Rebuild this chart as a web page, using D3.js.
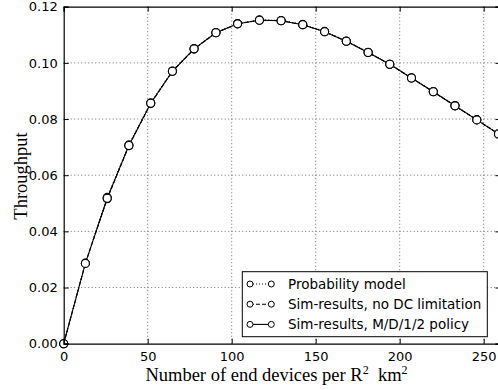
<!DOCTYPE html>
<html>
<head>
<meta charset="utf-8">
<script src="https://cdn.jsdelivr.net/npm/d3@7"></script>
<style>
  html, body { margin: 0; padding: 0; background: #fff; }
  svg { display: block; }
</style>
</head>
<body>
<svg id="chart" width="498" height="390"></svg>
<script>
// Device density (end devices per R^2 km^2)
const devices = [0, 12.9, 25.9, 38.8, 51.8, 64.7, 77.6, 90.6, 103.5, 116.5, 129.4,
                 142.3, 155.3, 168.2, 181.2, 194.1, 207.0, 220.0, 232.9, 245.9, 258.8];

// Throughput of each model
const probModel   = [0, 0.0287, 0.0521, 0.0708, 0.0858, 0.0971, 0.1051, 0.1108, 0.1140, 0.1153, 0.1151,
                     0.1137, 0.1112, 0.1078, 0.1038, 0.0995, 0.0947, 0.0898, 0.0848, 0.0798, 0.0748];
const simNoDC     = [0, 0.0286, 0.0516, 0.0705, 0.0855, 0.0970, 0.1049, 0.1107, 0.1139, 0.1152, 0.1150,
                     0.1136, 0.1111, 0.1077, 0.1037, 0.0995, 0.0946, 0.0897, 0.0847, 0.0797, 0.0747];
const simMD12     = [0, 0.0286, 0.0518, 0.0706, 0.0856, 0.0970, 0.1050, 0.1107, 0.1139, 0.1152, 0.1150,
                     0.1136, 0.1111, 0.1077, 0.1037, 0.0995, 0.0946, 0.0897, 0.0847, 0.0797, 0.0747];

const xTicks = [0, 50, 100, 150, 200, 250];
const yTicks = [0, 0.02, 0.04, 0.06, 0.08, 0.10, 0.12];

const seriesNames = ["Probability model", "Sim-results, no DC limitation", "Sim-results, M/D/1/2 policy"];
const seriesData = [probModel, simNoDC, simMD12];
const seriesDash = ["1,2", "4,2", null];

const svg = d3.select("#chart");
const mLeft = 63.7, mTop = 6.7, mBottom = 343.7, mRight = 500.5;

const x = d3.scaleLinear().domain([0, 260]).range([mLeft, mRight]);
const y = d3.scaleLinear().domain([0, 0.12]).range([mBottom, mTop]);

const plot = svg.append("g");

// clip to plotting region
svg.append("defs").append("clipPath").attr("id", "clip")
  .append("rect").attr("x", mLeft - 6).attr("y", mTop - 6)
  .attr("width", mRight - mLeft + 12).attr("height", mBottom - mTop + 12);

// dotted grid
const grid = plot.append("g").attr("stroke", "#000").attr("stroke-width", 0.7)
  .attr("stroke-dasharray", "1,2.5").attr("opacity", 0.8);
grid.selectAll("line.gx").data(xTicks.slice(1)).join("line")
  .attr("x1", d => x(d)).attr("x2", d => x(d)).attr("y1", mTop).attr("y2", mBottom);
grid.selectAll("line.gy").data(yTicks.slice(1, -1)).join("line")
  .attr("y1", d => y(d)).attr("y2", d => y(d)).attr("x1", mLeft).attr("x2", 498);

// series lines and markers
const lineGen = (vals) => d3.line().x((d, i) => x(devices[i])).y(d => y(d))(vals);
const series = plot.append("g").attr("clip-path", "url(#clip)");
seriesData.forEach((vals, k) => {
  series.append("path").attr("d", lineGen(vals))
    .attr("fill", "none").attr("stroke", "#000").attr("stroke-width", 1.1)
    .attr("stroke-dasharray", seriesDash[k]);
});
seriesData.forEach((vals) => {
  series.append("g").selectAll("circle").data(vals).join("circle")
    .attr("cx", (d, i) => x(devices[i])).attr("cy", d => y(d)).attr("r", 4)
    .attr("fill", "#fff").attr("stroke", "#000").attr("stroke-width", 1.1);
});

// axes with inward ticks (bottom/left with labels, top/right mirrored)
const fmtY = d3.format(".2f");
const axB = d3.axisBottom(x).tickValues(xTicks).tickSize(-5).tickPadding(8).tickFormat(d3.format("d"));
const axL = d3.axisLeft(y).tickValues(yTicks).tickSize(-5).tickPadding(6).tickFormat(fmtY);
const axT = d3.axisTop(x).tickValues(xTicks).tickSize(-5).tickFormat("");
const axR = d3.axisRight(y).tickValues(yTicks).tickSize(-5).tickFormat("");

function styleAxis(g) {
  g.selectAll("text").attr("font-family", "DejaVu Sans").attr("font-size", 13).attr("fill", "#000");
  g.selectAll("line").attr("stroke", "#000").attr("stroke-width", 1);
  g.select(".domain").attr("stroke", "#000").attr("stroke-width", 1.2);
}
svg.append("g").attr("transform", `translate(0,${mBottom})`).call(axB).call(styleAxis);
svg.append("g").attr("transform", `translate(${mLeft},0)`).call(axL).call(styleAxis);
svg.append("g").attr("transform", `translate(0,${mTop})`).call(axT).call(styleAxis);
svg.append("g").attr("transform", `translate(${mRight},0)`).call(axR).call(styleAxis);

// axis titles
svg.append("text").attr("x", 276.5).attr("y", 381).attr("text-anchor", "middle")
  .attr("font-family", "Liberation Serif").attr("font-size", 18.5).attr("fill", "#000")
  .attr("xml:space", "preserve")
  .html('Number of end devices per R<tspan dy="-7" font-size="12">2</tspan><tspan dy="7">  km</tspan><tspan dy="-7" font-size="12">2</tspan>');
svg.append("text").attr("transform", "translate(27,176) rotate(-90)").attr("text-anchor", "middle")
  .attr("font-family", "Liberation Serif").attr("font-size", 18.5).attr("fill", "#000")
  .text("Throughput");

// legend
const leg = svg.append("g");
leg.append("rect").attr("x", 242.3).attr("y", 271.7).attr("width", 245).attr("height", 65)
  .attr("fill", "#fff").attr("stroke", "#000").attr("stroke-width", 1);
seriesNames.forEach((name, k) => {
  const yy = 284 + k * 20.2;
  leg.append("line").attr("x1", 250).attr("x2", 271.3).attr("y1", yy).attr("y2", yy)
    .attr("stroke", "#000").attr("stroke-width", 1.1).attr("stroke-dasharray", seriesDash[k]);
  [250, 271.3].forEach(cx => leg.append("circle").attr("cx", cx).attr("cy", yy).attr("r", 3)
    .attr("fill", "#fff").attr("stroke", "#000").attr("stroke-width", 1));
  leg.append("text").attr("x", 288).attr("y", yy).attr("dy", "0.35em")
    .attr("font-family", "DejaVu Sans").attr("font-size", 13.5).attr("fill", "#000").text(name);
});
</script>
</body>
</html>
